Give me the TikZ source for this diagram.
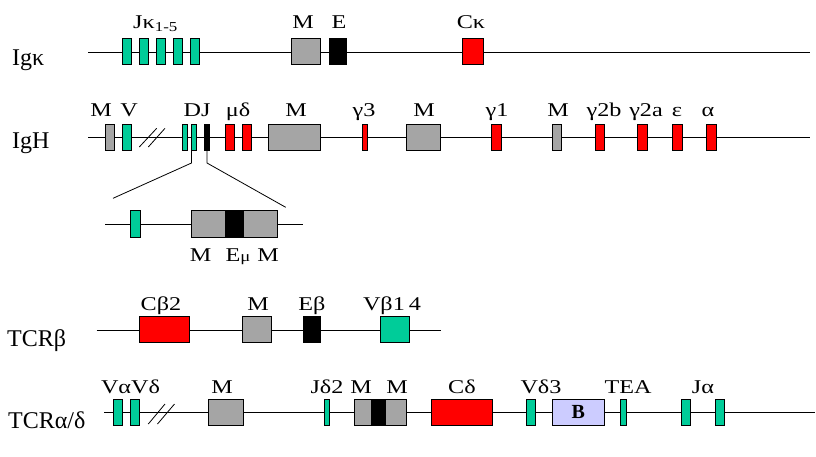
\documentclass[tikz,border=0pt]{standalone}
\usepackage{fontspec}
\setmainfont{Liberation Serif}
\usepackage{graphicx}
\definecolor{tealc}{RGB}{0,204,153}
\definecolor{redc}{RGB}{255,0,0}
\definecolor{grayc}{RGB}{165,165,165}
\definecolor{lavc}{RGB}{204,204,255}
\newcommand{\gl}[1]{\scalebox{1.24}[1]{#1}}
\tikzset{
  gbox/.style={draw=black, line width=0.7pt, inner sep=0pt, outer sep=0pt},
  tealbox/.style={gbox, fill=tealc},
  redbox/.style={gbox, fill=redc},
  graybox/.style={gbox, fill=grayc},
  blackbox/.style={gbox, fill=black},
  lavbox/.style={gbox, fill=lavc},
  chrom/.style={line width=0.8pt},
  glabel/.style={font=\fontsize{19.5}{22}\selectfont, inner sep=0pt, anchor=base},
  rlabel/.style={font=\fontsize{24}{26}\selectfont, inner sep=0pt, anchor=base west},
}
\begin{document}
\begin{tikzpicture}[x=1pt,y=-1pt]
\useasboundingbox (0,0) rectangle (816,456);

% ---------- Ig kappa ----------
\coordinate (k0) at (88,52); \coordinate (k1) at (810,52);
\draw[chrom] (k0) -- (k1);
\foreach \i/\x in {1/126.5,2/143.7,3/160.9,4/178.1,5/195.3}
  \node[tealbox, minimum width=9pt, minimum height=26pt] (jk\i) at (\x,51) {};
\node[graybox, minimum width=29pt, minimum height=26pt] (km) at (306.2,51) {};
\node[blackbox, minimum width=17.7pt, minimum height=26pt] (ke) at (337.8,51) {};
\node[redbox, minimum width=21pt, minimum height=26pt] (kc) at (472.8,51) {};
\node[glabel, anchor=base west] (ljk) at (133,28.3) {\gl{Jκ\textsubscript{1-5}}};
\node[glabel] (lkm) at (303,28.3) {\gl{M}};
\node[glabel] (lke) at (339,28.3) {\gl{E}};
\node[glabel] (lkc) at (471,28.3) {\gl{Cκ}};
\node[rlabel] (rk) at (12,65) {Igκ};

% ---------- IgH ----------
\coordinate (h0) at (88,137.3); \coordinate (h1) at (810,137.3);
\draw[chrom] (h0) -- (h1);
\node[graybox, minimum width=9.3pt, minimum height=26pt] (hm1) at (109.7,137) {};
\node[tealbox, minimum width=8.7pt, minimum height=26pt] (hv) at (126.7,137) {};
\coordinate (hs1a) at (139.3,147); \coordinate (hs1b) at (156.7,128.3);
\coordinate (hs2a) at (148.3,147); \coordinate (hs2b) at (165,128.3);
\draw[chrom] (hs1a) -- (hs1b);
\draw[chrom] (hs2a) -- (hs2b);
\node[tealbox, minimum width=5pt, minimum height=26pt] (hd1) at (185.2,137) {};
\node[tealbox, minimum width=5pt, minimum height=26pt] (hd2) at (193.5,137) {};
\node[blackbox, minimum width=5pt, minimum height=26pt] (hj) at (206.8,137) {};
\node[redbox, minimum width=9pt, minimum height=26pt] (hmu) at (229.8,137) {};
\node[redbox, minimum width=9pt, minimum height=26pt] (hdel) at (246.5,137) {};
\node[graybox, minimum width=52pt, minimum height=26pt] (hm2) at (294.7,137) {};
\node[redbox, minimum width=5pt, minimum height=26pt] (hg3) at (365.2,137) {};
\node[graybox, minimum width=34.7pt, minimum height=26pt] (hm3) at (423.3,137) {};
\node[redbox, minimum width=9.3pt, minimum height=26pt] (hg1) at (496.3,137) {};
\node[graybox, minimum width=8.7pt, minimum height=26pt] (hm4) at (556.7,137) {};
\node[redbox, minimum width=9pt, minimum height=26pt] (hg2b) at (599.5,137) {};
\node[redbox, minimum width=9.3pt, minimum height=26pt] (hg2a) at (642.3,137) {};
\node[redbox, minimum width=9.3pt, minimum height=26pt] (heps) at (677.3,137) {};
\node[redbox, minimum width=9.3pt, minimum height=26pt] (halp) at (711.3,137) {};
\node[glabel] (lhm1) at (101,116.7) {\gl{M}};
\node[glabel] (lhv) at (129,116.7) {\gl{V}};
\node[glabel] (lhdj) at (197,116.7) {\gl{DJ}};
\node[glabel] (lhmd) at (238,116.7) {\gl{μδ}};
\node[glabel] (lhm2) at (296,116.7) {\gl{M}};
\node[glabel] (lhg3) at (364,116.7) {\gl{γ3}};
\node[glabel] (lhm3) at (424,116.7) {\gl{M}};
\node[glabel] (lhg1) at (497,116.7) {\gl{γ1}};
\node[glabel] (lhm4) at (558,116.7) {\gl{M}};
\node[glabel] (lhg2b) at (604,116.7) {\gl{γ2b}};
\node[glabel] (lhg2a) at (646,116.7) {\gl{γ2a}};
\node[glabel] (lheps) at (677,116.7) {\gl{ε}};
\node[glabel] (lhalp) at (708,116.7) {\gl{α}};
\node[rlabel] (rh) at (12,148.3) {IgH};

% ---------- expansion ----------
\coordinate (xa0) at (191.5,150); \coordinate (xa1) at (191.5,163); \coordinate (xa2) at (113,198.3);
\coordinate (xb0) at (207,150); \coordinate (xb1) at (207,163); \coordinate (xb2) at (285.7,207.3);
\draw[chrom] (xa0) -- (xa1) -- (xa2);
\draw[chrom] (xb0) -- (xb1) -- (xb2);
\coordinate (e0) at (105,224.3); \coordinate (e1) at (303,224.3);
\draw[chrom] (e0) -- (e1);
\node[tealbox, minimum width=10pt, minimum height=26.5pt] (et) at (135,224) {};
\node[graybox, minimum width=86.3pt, minimum height=26.5pt] (em) at (234.2,224) {};
\node[blackbox, minimum width=18pt, minimum height=26.5pt] (eb) at (234.3,224) {};
\node[glabel] (lem1) at (200.7,261.7) {\gl{M}};
\node[glabel] (leem) at (238,261.7) {\gl{E{\fontsize{15}{16}\selectfont μ}}};
\node[glabel] (lem2) at (268,261.7) {\gl{M}};

% ---------- TCR beta ----------
\coordinate (b0) at (96.7,330.7); \coordinate (b1) at (440.7,330.7);
\draw[chrom] (b0) -- (b1);
\node[redbox, minimum width=49.7pt, minimum height=26.7pt] (bc) at (164.2,329.3) {};
\node[graybox, minimum width=29.4pt, minimum height=26.7pt] (bm) at (257,329.3) {};
\node[blackbox, minimum width=17.4pt, minimum height=26.7pt] (be) at (312,329.3) {};
\node[tealbox, minimum width=29.3pt, minimum height=26.7pt] (bv) at (394.7,329.3) {};
\node[glabel] (lbc) at (161,310) {\gl{Cβ2}};
\node[glabel] (lbm) at (258,310) {\gl{M}};
\node[glabel] (lbe) at (312,310) {\gl{Eβ}};
\node[glabel] (lbv) at (392,310) {\gl{Vβ1\,4}};
\node[rlabel] (rb) at (7,346.7) {TCRβ};

% ---------- TCR alpha/delta ----------
\coordinate (a0) at (104,412.7); \coordinate (a1) at (815,412.7);
\draw[chrom] (a0) -- (a1);
\node[tealbox, minimum width=9pt, minimum height=26.7pt] (ava) at (117.8,412.3) {};
\node[tealbox, minimum width=9pt, minimum height=26.7pt] (avd) at (135.2,412.3) {};
\coordinate (as1a) at (148.3,424); \coordinate (as1b) at (165,404);
\coordinate (as2a) at (157.5,424); \coordinate (as2b) at (174.5,404);
\draw[chrom] (as1a) -- (as1b);
\draw[chrom] (as2a) -- (as2b);
\node[graybox, minimum width=35pt, minimum height=26.7pt] (am1) at (225.8,412.3) {};
\node[tealbox, minimum width=5.3pt, minimum height=26.7pt] (ajd) at (326.7,412.3) {};
\node[graybox, minimum width=51.7pt, minimum height=26.7pt] (amm) at (380.2,412.3) {};
\node[blackbox, minimum width=14pt, minimum height=26.7pt] (ab) at (378,412.3) {};
\node[redbox, minimum width=60.6pt, minimum height=26.7pt] (acd) at (462,412.3) {};
\node[tealbox, minimum width=8.6pt, minimum height=26.7pt] (avd3) at (531,412.3) {};
\node[lavbox, minimum width=51.7pt, minimum height=26.7pt, font=\fontsize{20}{22}\selectfont\bfseries] (abb) at (578.2,412.3) {B};
\node[tealbox, minimum width=5.3pt, minimum height=26.7pt] (atea) at (623.3,412.3) {};
\node[tealbox, minimum width=9pt, minimum height=26.7pt] (aja1) at (685.5,412.3) {};
\node[tealbox, minimum width=8.6pt, minimum height=26.7pt] (aja2) at (720,412.3) {};
\node[glabel] (lavv) at (130.5,393.3) {\gl{VαVδ}};
\node[glabel] (lam1) at (222,393.3) {\gl{M}};
\node[glabel] (lajd) at (327,393.3) {\gl{Jδ2}};
\node[glabel] (lam2) at (361,393.3) {\gl{M}};
\node[glabel] (lam3) at (397,393.3) {\gl{M}};
\node[glabel] (lacd) at (462,393.3) {\gl{Cδ}};
\node[glabel] (lavd3) at (541,393.3) {\gl{Vδ3}};
\node[glabel] (latea) at (628,393.3) {\gl{TEA}};
\node[glabel] (laja) at (703,393.3) {\gl{Jα}};
\node[rlabel] (ra) at (8,428.3) {TCRα/δ};
\end{tikzpicture}
\end{document}
